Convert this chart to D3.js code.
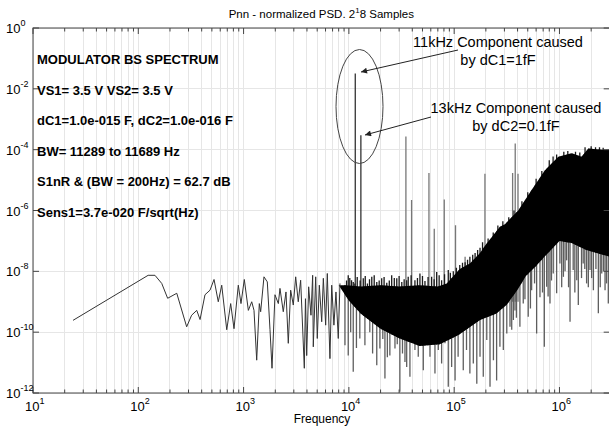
<!DOCTYPE html>
<html>
<head>
<meta charset="utf-8">
<script src="https://cdn.jsdelivr.net/npm/d3@7"></script>
<style>
  body { margin: 0; background: #fff; }
  text { font-family: "Liberation Sans", Arial, sans-serif; fill: #000; }
</style>
</head>
<body>
<svg id="chart" width="609" height="427"></svg>
<script>
// low frequency part of the PSD, drawn as a single line
const lowFreq = [24, 124, 144, 167, 190, 232, 288, 321, 359, 386, 430, 480, 524, 575, 620, 692, 754, 811, 891, 945,
    1016, 1110, 1195, 1256, 1332, 1410, 1453, 1562, 1680, 1782, 1862, 1987, 2138, 2216, 2382, 2528, 2658, 2800,
    2965, 3124, 3305, 3483, 3774, 3870, 3975, 4150, 4365, 4530, 4592, 4840, 5010, 5240, 5520, 5720, 6020, 6240,
    6610, 6870, 7210, 7540, 7930, 8230];
const lowPsd = [2.45e-10, 7.4e-9, 7.4e-9, 4.0e-9, 1.3e-9, 1.9e-9, 1.5e-10, 3.6e-10, 5.2e-10, 2.6e-10, 1.7e-9, 2.4e-9,
    5.4e-9, 1.0e-9, 3.5e-9, 1.2e-10, 8.7e-10, 1.3e-10, 3.5e-9, 8.7e-10,
    5.4e-9, 5.2e-10, 1.0e-9, 5.2e-10, 1.2e-11, 8.7e-10, 4.7e-10, 6.6e-9, 4.5e-9, 1.2e-10, 6.5e-12, 1.7e-9, 8.7e-10,
    2.75e-9, 4.7e-10, 2.1e-9, 4.3e-11, 2.4e-9, 7.8e-10, 6.6e-9, 1e-9, 5.1e-9, 6.5e-12, 1.26e-9, 1.7e-11, 3.1e-9,
    3.6e-10, 7.4e-9, 3.3e-11, 6.6e-9, 6.2e-11, 3.5e-9, 2.2e-10, 5.9e-9, 1.7e-10, 8.5e-9, 1.35e-11, 3.5e-9, 1.7e-10,
    2.1e-9, 6.2e-11, 4e-9];

// dense noise band: upper and lower edge of the solid black region
const topFreq = [8000, 9200, 13000, 20000, 30000, 47000, 70000, 85000, 102000, 113000, 141000, 176000, 196000,
    272000, 303000, 406000, 544000, 728000, 975000, 1310000, 1620000, 1880000, 2710000, 3000000];
const topPsd = [3.5e-9, 3.5e-9, 3.2e-9, 3.5e-9, 3.2e-9, 3.5e-9, 3.2e-9, 4e-9, 8e-9, 1.2e-8, 1.8e-8, 4e-8, 7e-8,
    2.9e-7, 3.5e-7, 1.0e-6, 4.7e-6, 2.1e-5, 5.9e-5, 7.6e-5, 5.9e-5, 1.1e-4, 9.8e-5, 1e-4];
const lowEdgeFreq = [8000, 10000, 13000, 20000, 30000, 47000, 73000, 110000, 176000, 250000, 316000, 400000, 480000,
    600000, 720000, 1000000, 1300000, 1800000, 3000000];
const lowEdgePsd = [3.5e-9, 1.1e-9, 4e-10, 1.3e-10, 6.3e-11, 3.5e-11, 4e-11, 8e-11, 2.5e-10, 4e-10, 8e-10, 2.5e-9,
    7e-9, 1.5e-8, 3e-8, 1e-7, 8.5e-8, 5e-8, 3e-8];

// downward excursions below the band
const dipFreq = [9180, 9860, 10400, 11000, 11800, 12700, 14200, 15800, 16800, 18400, 19700, 21000, 22000, 23200,
    24500, 26000, 27400, 28800, 30500, 32300, 34100,
    35400, 38000, 42400, 45600, 50900, 54800, 58900, 65700, 70700, 76000, 81800, 87900, 94600, 102000, 109000,
    122000, 131000, 141000, 152000, 164000, 176000, 189000, 204000, 219000, 236000, 253000, 272000, 293000,
    316000, 339000, 352000, 365000, 378000, 390000, 421000, 453000, 470000, 505000, 530000, 544000, 580000,
    607000, 653000, 690000, 718000, 756000, 780000, 813000, 840000, 873000, 940000, 1010000, 1050000, 1090000,
    1130000, 1170000, 1220000, 1260000, 1350000, 1400000, 1460000, 1510000, 1620000, 1680000, 1740000, 1810000,
    1880000, 1950000, 2020000, 2100000, 2220000, 2340000, 2440000, 2520000, 2620000, 2710000, 2800000, 2910000,
    2980000];
const dipPsd = [3.7e-11, 1.7e-11, 1e-10, 5e-12, 3e-11, 6.2e-11, 3.7e-11, 1e-10, 2e-11, 8.1e-12, 2.9e-11, 6e-11,
    3e-12, 1.5e-11, 1.7e-11, 8e-11, 2.9e-11, 4e-11, 1.1e-12, 2e-11, 1.05e-11,
    7.2e-12, 3.4e-12, 2.6e-11, 1.55e-11, 5.6e-12, 4.3e-11, 1.55e-11, 4.4e-12, 2.6e-11, 9.3e-12, 4.3e-11,
    1.6e-12, 7.2e-12, 2.6e-12, 1.55e-11, 5.6e-12, 2.6e-11, 4.4e-12, 9.3e-12, 2e-12, 1.55e-11, 3.4e-12, 5.5e-11,
    1.6e-12, 1.2e-11, 2.6e-12, 3.3e-11, 2.6e-11, 9.1e-11, 1.5e-10, 1.2e-10, 2.5e-10, 5.2e-10, 3e-10, 1.5e-10,
    8.7e-10, 1.2e-9, 3.2e-10, 6e-10, 2.4e-9, 4e-9, 9.1e-11, 1.4e-9, 2e-9, 3.3e-11, 3.1e-9, 1.5e-9, 8.7e-10, 5e-9,
    8.5e-9, 1.9e-9, 1.8e-8, 3e-9, 6.6e-9, 1e-8, 2.3e-8, 3e-9, 2.2e-10, 1.1e-8, 2e-9, 5.1e-9, 7.8e-10, 6e-9,
    1.8e-8, 1.2e-8, 4e-9, 3e-9, 1.1e-8, 6e-9, 2.4e-9, 1.2e-8, 4.2e-10, 3e-9, 8.5e-9, 1e-8, 2.4e-9, 4e-9, 8.7e-10,
    1.5e-9];

// upward excursions above the band
const tipFreq = [9180, 9500, 9860, 10200, 10600, 11000, 11400, 12000, 12800, 13700, 14300, 15000, 15700, 16500,
    17400, 18400, 19400, 20500, 21600, 22900, 24200, 25500, 27000, 28500, 30000, 31800, 33500, 35400, 36600,
    39000, 42400, 44800, 47300, 50000, 52800, 56500, 61100, 64500, 68200, 72000, 76000, 81000, 87900, 92000,
    98100, 105000, 113000, 120000, 127000, 134000, 141000, 150000, 158000, 167000, 176000, 186000, 210000,
    235000, 260000, 290000, 330000, 370000, 440000, 500000, 600000, 680000, 800000, 870000, 940000, 1100000,
    1200000, 1420000, 1560000, 1750000, 2000000, 2200000, 2400000, 2600000];
const tipPsd = [3.5e-9, 5e-9, 7.4e-9, 6e-9, 5.1e-9, 4.5e-9, 4e-9, 6.5e-9, 5e-9, 5.9e-9, 7e-9, 4e-9, 5.5e-9, 6.6e-9,
    7.5e-9, 4.5e-9, 5e-9, 5.9e-9, 6.5e-9, 4.2e-9, 5e-9, 7.4e-9, 6e-9, 5.9e-9, 7e-9, 4.5e-9, 5.5e-9, 5.1e-9, 6.6e-9,
    7.5e-9, 5.1e-9, 6e-9, 8.5e-9, 7e-9, 4.8e-9, 6.5e-9, 6.6e-9, 5.5e-9, 9.5e-9, 7.5e-9, 5.1e-9, 8e-9, 1.1e-8, 9e-9,
    1e-8, 1.3e-8, 1.6e-8, 1.9e-8, 2e-8, 2.4e-8, 3e-8, 3.5e-8, 4e-8, 5e-8, 6e-8, 9e-8, 1.2e-7,
    1.9e-7, 3.2e-7, 4.4e-7, 6e-7, 1e-6, 2e-6, 4e-6, 1.1e-5, 2e-5, 4.5e-5, 6e-5, 7e-5, 8.5e-5,
    9e-5, 8.5e-5, 8e-5, 1.2e-4, 1.3e-4, 1.2e-4, 1.2e-4, 1.15e-4];

// tonal components
const spikeFreq = [11500, 13000, 34800, 39400, 57600, 64700, 80500, 103000, 127000, 196000, 359000, 380000, 404000];
const spikePsd = [3.2e-2, 3.0e-4, 2.7e-4, 2.2e-6, 1.7e-5, 2.5e-7, 2.3e-6, 3.3e-7, 3e-8, 1.6e-5, 1.7e-5, 1.6e-4, 1.6e-5];

const yTicks = [1, 1e-2, 1e-4, 1e-6, 1e-8, 1e-10, 1e-12];
const xTickExp = [1, 2, 3, 4, 5, 6];

const infoLines = [
    'MODULATOR BS SPECTRUM',
    'VS1= 3.5 V VS2= 3.5 V',
    'dC1=1.0e-015 F, dC2=1.0e-016 F',
    'BW= 11289 to 11689 Hz',
    'S1nR & (BW = 200Hz) = 62.7  dB',
    'Sens1=3.7e-020 F/sqrt(Hz)'
];

const svg = d3.select('#chart');
const m = {left: 33, top: 28, right: 609.7, bottom: 393};

const x = d3.scaleLog().domain([10, 3e6]).range([m.left, m.right]);
const y = d3.scaleLog().domain([1e-12, 1]).range([m.bottom, m.top]);

const defs = svg.append('defs');
defs.append('clipPath').attr('id', 'plot-clip')
    .append('rect')
    .attr('x', m.left).attr('y', m.top)
    .attr('width', m.right - m.left).attr('height', m.bottom - m.top);

const topPts = topFreq.map((f, i) => [x(f), y(topPsd[i])]);
const lowPts = lowEdgeFreq.map((f, i) => [x(f), y(lowEdgePsd[i])]);
const xEnd = x(3e6);

// region under the band top (for dips) and above the band bottom (for tips)
defs.append('clipPath').attr('id', 'under-top')
    .append('path')
    .attr('d', d3.line()(topPts.concat([[xEnd, m.bottom], [topPts[0][0], m.bottom]])) + 'Z');
defs.append('clipPath').attr('id', 'over-low')
    .append('path')
    .attr('d', d3.line()(lowPts.concat([[xEnd, m.top], [lowPts[0][0], m.top]])) + 'Z');

// grid
const gridX = x.ticks();
svg.append('g')
    .attr('shape-rendering', 'crispEdges')
    .selectAll('line')
    .data(gridX)
    .enter().append('line')
    .attr('x1', d => x(d)).attr('x2', d => x(d))
    .attr('y1', m.top).attr('y2', m.bottom)
    .attr('stroke', '#e6e6e6');

svg.append('g')
    .attr('shape-rendering', 'crispEdges')
    .selectAll('line')
    .data(yTicks)
    .enter().append('line')
    .attr('x1', m.left).attr('x2', m.right)
    .attr('y1', d => y(d)).attr('y2', d => y(d))
    .attr('stroke', '#e6e6e6');

const plot = svg.append('g').attr('clip-path', 'url(#plot-clip)');

// spikes
plot.append('g')
    .selectAll('line')
    .data(spikeFreq)
    .enter().append('line')
    .attr('x1', d => x(d)).attr('x2', d => x(d))
    .attr('y1', (d, i) => y(spikePsd[i]))
    .attr('y2', y(1e-9))
    .attr('stroke', (d, i) => i < 2 ? '#333' : '#777')
    .attr('stroke-width', 1.3);

// dips, clipped under the band top
plot.append('g')
    .attr('clip-path', 'url(#under-top)')
    .selectAll('line')
    .data(dipFreq)
    .enter().append('line')
    .attr('x1', d => x(d)).attr('x2', d => x(d))
    .attr('y1', (d, i) => y(dipPsd[i]))
    .attr('y2', m.top)
    .attr('stroke', '#5e5e5e')
    .attr('stroke-width', 1.3);

// tips, clipped above the band bottom
plot.append('g')
    .attr('clip-path', 'url(#over-low)')
    .selectAll('line')
    .data(tipFreq)
    .enter().append('line')
    .attr('x1', d => x(d)).attr('x2', d => x(d))
    .attr('y1', (d, i) => y(tipPsd[i]))
    .attr('y2', m.bottom)
    .attr('stroke', '#1a1a1a')
    .attr('stroke-width', 1.3);

// dense noise band
plot.append('path')
    .attr('d', d3.line()(topPts.concat(lowPts.slice().reverse())) + 'Z')
    .attr('fill', '#000');

// low frequency line
plot.append('path')
    .datum(lowFreq.map((f, i) => [f, lowPsd[i]]))
    .attr('fill', 'none')
    .attr('stroke', '#333')
    .attr('stroke-width', 1)
    .attr('d', d3.line().x(d => x(d[0])).y(d => y(d[1])));

// frame and ticks
svg.append('rect')
    .attr('x', m.left).attr('y', m.top)
    .attr('width', m.right - m.left).attr('height', m.bottom - m.top)
    .attr('fill', 'none')
    .attr('stroke', '#444')
    .attr('stroke-width', 1);

const isMajor = d => Math.abs(Math.log10(d) - Math.round(Math.log10(d))) < 1e-9;
const tickG = svg.append('g').attr('stroke', '#444').attr('stroke-width', 1);
gridX.forEach(d => {
    const len = isMajor(d) ? 6 : 3.5;
    tickG.append('line').attr('x1', x(d)).attr('x2', x(d)).attr('y1', m.bottom).attr('y2', m.bottom - len);
    tickG.append('line').attr('x1', x(d)).attr('x2', x(d)).attr('y1', m.top).attr('y2', m.top + len);
});
yTicks.forEach(d => {
    tickG.append('line').attr('x1', m.left).attr('x2', m.left + 6).attr('y1', y(d)).attr('y2', y(d));
    tickG.append('line').attr('x1', m.right).attr('x2', m.right - 6).attr('y1', y(d)).attr('y2', y(d));
});

// tick labels
const xl = svg.append('g').selectAll('text')
    .data(xTickExp)
    .enter().append('text')
    .attr('x', d => x(Math.pow(10, d)) - 8)
    .attr('y', 411)
    .style('font-size', '13px');
xl.append('tspan').text('10');
xl.append('tspan').attr('dy', -7).style('font-size', '9px').text(d => d);

const yl = svg.append('g').selectAll('text')
    .data(yTicks)
    .enter().append('text')
    .attr('x', 6)
    .attr('y', d => y(d) + 5)
    .style('font-size', '13px');
yl.append('tspan').text('10');
yl.append('tspan').attr('dy', -7).style('font-size', '9px').text(d => Math.round(Math.log10(d)));

// title and axis label
const title = svg.append('text')
    .attr('x', (m.left + m.right) / 2)
    .attr('y', 18)
    .attr('text-anchor', 'middle')
    .style('font-size', '11.5px');
title.append('tspan').text('Pnn - normalized PSD. 2');
title.append('tspan').attr('dy', -5).style('font-size', '8px').text('1');
title.append('tspan').attr('dy', 5).text('8 Samples');

svg.append('text')
    .attr('x', 322)
    .attr('y', 423)
    .attr('text-anchor', 'middle')
    .style('font-size', '12px')
    .text('Frequency');

// info block
svg.append('g').selectAll('text')
    .data(infoLines)
    .enter().append('text')
    .attr('x', 37)
    .attr('y', (d, i) => 64 + i * 30.6)
    .style('font-size', '13px')
    .style('font-weight', 'bold')
    .text(d => d);

// callouts
svg.append('ellipse')
    .attr('cx', 359.5).attr('cy', 106.5)
    .attr('rx', 23.5).attr('ry', 57)
    .attr('fill', 'none')
    .attr('stroke', '#444')
    .attr('stroke-width', 1);

defs.append('marker')
    .attr('id', 'arrow')
    .attr('viewBox', '0 0 10 10')
    .attr('refX', 10).attr('refY', 5)
    .attr('markerWidth', 9).attr('markerHeight', 6)
    .attr('orient', 'auto')
    .append('path')
    .attr('d', 'M0,0L10,5L0,10z')
    .attr('fill', '#222');

const arrows = [[458, 50, 361, 72], [431, 117, 365, 135]];
svg.append('g').selectAll('line')
    .data(arrows)
    .enter().append('line')
    .attr('x1', d => d[0]).attr('y1', d => d[1])
    .attr('x2', d => d[2]).attr('y2', d => d[3])
    .attr('stroke', '#222')
    .attr('stroke-width', 1)
    .attr('marker-end', 'url(#arrow)');

const callouts = [
    {x: 498, y: 47, t: '11kHz Component caused'},
    {x: 498, y: 65, t: 'by dC1=1fF'},
    {x: 516, y: 113, t: '13kHz Component caused'},
    {x: 516, y: 131, t: 'by dC2=0.1fF'}
];
svg.append('g').selectAll('text')
    .data(callouts)
    .enter().append('text')
    .attr('x', d => d.x)
    .attr('y', d => d.y)
    .attr('text-anchor', 'middle')
    .style('font-size', '14.5px')
    .text(d => d.t);
</script>
</body>
</html>
